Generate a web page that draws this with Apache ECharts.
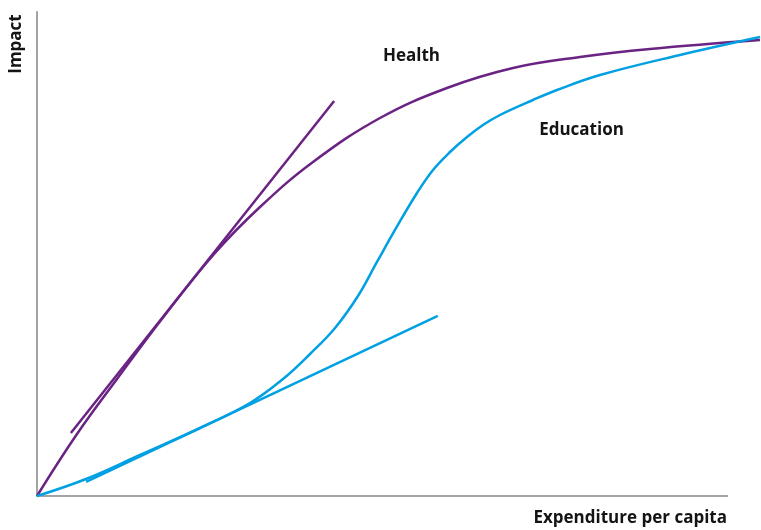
<!DOCTYPE html>
<html>
<head>
<meta charset="utf-8">
<script src="https://cdn.jsdelivr.net/npm/echarts@6/dist/echarts.min.js"></script>
<style>html,body{margin:0;padding:0;background:#fff}#c{width:761px;height:530px}</style>
</head>
<body>
<div id="c"></div>
<script>
// Values in relative units: x = expenditure (0-100 = drawn axis length), y = impact (0-100)
const healthX = [0, 5.79, 11.58, 18.52, 25.76, 32.27, 39.94, 49.64, 59.33, 68.89, 78.58, 88.71, 104.63];
const healthY = [0, 12.81, 24.17, 37.40, 50.21, 59.71, 69.01, 78.10, 84.30, 88.43, 90.70, 92.36, 94.21];
const healthTangentX = [4.9, 43.0];
const healthTangentY = [13.0, 81.6];

const eduX = [0, 7.09, 14.91, 23.59, 30.82, 35.60, 39.51, 43.13, 46.45, 49.20, 51.81, 54.99, 57.31, 59.77, 62.23, 64.54, 67.00, 71.78, 75.25, 81.48, 93.05, 104.63];
const eduY = [0, 3.51, 8.47, 14.05, 19.21, 24.17, 29.34, 34.71, 41.32, 48.35, 54.96, 62.60, 67.36, 71.07, 74.17, 76.65, 78.72, 81.82, 83.88, 86.98, 91.12, 94.83];
const eduTangentX = [7.1, 58.0];
const eduTangentY = [2.9, 37.2];

const xAxisLineX = [0, 100];
const xAxisLineY = [0, 0];

const labels = { health: 'Health', education: 'Education', xName: 'Expenditure per capita', yName: 'Impact' };

const zip = (xs, ys) => xs.map((x, i) => [x, ys[i]]);
const PURPLE = '#6a2383';
const BLUE = '#00a0e2';
const GRAY = '#a3a3a3';
const FONT = '"Open Sans", "Noto Sans", sans-serif';
const TXT = '#141414';
const TFONT = 'bold 17px ' + FONT;

const chart = echarts.init(document.getElementById('c'), null, { renderer: 'canvas' });
chart.setOption({
  animation: false,
  grid: { left: 37, right: 1, top: 12, bottom: 34 },
  xAxis: {
    type: 'value', min: 0, max: 104.63,
    axisLine: { show: false },
    axisTick: { show: false }, axisLabel: { show: false }, splitLine: { show: false }
  },
  yAxis: {
    type: 'value', min: 0, max: 100,
    axisLine: { show: true, lineStyle: { color: GRAY, width: 2 } },
    axisTick: { show: false }, axisLabel: { show: false }, splitLine: { show: false }
  },
  series: [
    { type: 'line', data: zip(xAxisLineX, xAxisLineY), showSymbol: false, clip: false,
      lineStyle: { color: GRAY, width: 2 }, silent: true },
    { type: 'line', data: zip(healthTangentX, healthTangentY), showSymbol: false, clip: false,
      lineStyle: { color: PURPLE, width: 2.5 } },
    { type: 'line', data: zip(healthX, healthY), showSymbol: false, clip: false, smooth: 0.4,
      lineStyle: { color: PURPLE, width: 2.5 } },
    { type: 'line', data: zip(eduTangentX, eduTangentY), showSymbol: false, clip: false,
      lineStyle: { color: BLUE, width: 2.5 } },
    { type: 'line', data: zip(eduX, eduY), showSymbol: false, clip: false, smooth: 0.4,
      lineStyle: { color: BLUE, width: 2.5 } }
  ],
  graphic: [
    { type: 'text', x: 411.5, y: 56, style: { text: labels.health, fill: TXT, font: TFONT, align: 'center', verticalAlign: 'middle' } },
    { type: 'text', x: 581.5, y: 130, style: { text: labels.education, fill: TXT, font: TFONT, align: 'center', verticalAlign: 'middle' } },
    { type: 'text', x: 727, y: 518, style: { text: labels.xName, fill: TXT, font: TFONT, align: 'right', verticalAlign: 'middle' } },
    { type: 'text', x: 16, y: 44, rotation: Math.PI / 2, style: { text: labels.yName, fill: TXT, font: TFONT, align: 'center', verticalAlign: 'middle' } }
  ]
});
</script>
</body>
</html>
